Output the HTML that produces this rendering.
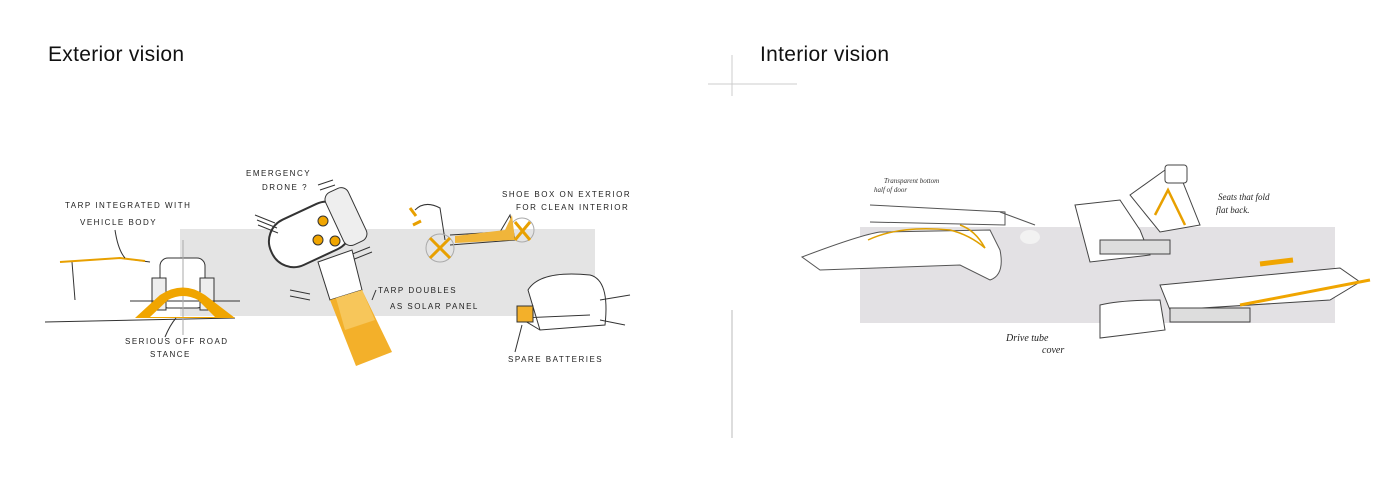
<!DOCTYPE html>
<html><head><meta charset="utf-8"><style>
body{margin:0;background:#fff;width:1400px;height:495px;overflow:hidden;position:relative;font-family:"Liberation Sans",sans-serif}
.t{position:absolute;top:43px;font-size:21px;color:#111;letter-spacing:0.3px}
svg{position:absolute;left:0;top:0}
.h{font-family:"Liberation Sans",sans-serif;font-size:8px;fill:#222;letter-spacing:1.5px}
</style></head><body>
<div class="t" style="left:48px">Exterior vision</div>
<div class="t" style="left:760px">Interior vision</div>
<svg width="1400" height="495" viewBox="0 0 1400 495">
<line x1="732" y1="55" x2="732" y2="96" stroke="#ccc"/>
<line x1="708" y1="84" x2="797" y2="84" stroke="#ccc"/>
<line x1="732" y1="310" x2="732" y2="438" stroke="#bbb"/>
<rect x="180" y="229" width="415" height="87" fill="#e4e4e4"/>
<rect x="860" y="227" width="475" height="96" fill="#e3e1e4"/>

<g stroke="#333" fill="none" stroke-width="1">
<path d="M60 262 L120 258 L150 262"/><path d="M72 262 L75 300"/>
<path d="M45 322 L235 318"/>
<rect x="160" y="258" width="45" height="50" rx="8" fill="#fff"/>
<rect x="152" y="278" width="14" height="32" fill="#eee"/><rect x="200" y="278" width="14" height="32" fill="#eee"/>
<line x1="130" y1="301" x2="240" y2="301"/>
<line x1="183" y1="240" x2="183" y2="335" stroke="#aaa"/>
</g>
<path d="M60 262 L120 258 L145 261" stroke="#e8a000" stroke-width="2" fill="none"/>
<path d="M135 318 L160 295 Q183 280 205 295 L235 318 Z M150 317 L168 300 Q183 292 198 300 L215 317 Z" fill="#f0a500" fill-rule="evenodd"/>
<text class="h" x="65" y="208">TARP INTEGRATED WITH</text>
<text class="h" x="80" y="225">VEHICLE BODY</text>
<path d="M115 230 Q118 250 125 258" stroke="#333" fill="none"/>
<text class="h" x="125" y="344">SERIOUS OFF ROAD</text>
<text class="h" x="150" y="357">STANCE</text>
<path d="M165 337 Q170 325 176 318" stroke="#333" fill="none"/>

<g transform="rotate(-25 310 240)">
<rect x="270" y="210" width="85" height="50" rx="24" fill="#fff" stroke="#333" stroke-width="2"/>
<rect x="340" y="205" width="25" height="58" rx="8" fill="#eee" stroke="#333"/>
</g>
<circle cx="323" cy="221" r="5" fill="#f0a500" stroke="#333"/>
<circle cx="318" cy="240" r="5" fill="#f0a500" stroke="#333"/>
<circle cx="335" cy="241" r="5" fill="#f0a500" stroke="#333"/>
<g stroke="#333" stroke-width="1"><path d="M255 215 l20 8 M257 220 l20 8 M258 225 l20 8 M350 255 l20 -8 M352 260 l20 -8 M318 185 l15 -5 M320 190 l15 -5 M290 290 l20 4 M290 296 l20 4"/></g>
<polygon points="318,262 352,250 362,290 330,300" fill="#fff" stroke="#333"/>
<polygon points="330,300 362,290 392,352 356,366" fill="#f3b02a"/>
<polygon points="336,298 362,290 375,320 345,330" fill="#f7c65a"/>
<text class="h" x="246" y="176">EMERGENCY</text>
<text class="h" x="262" y="190">DRONE ?</text>
<text class="h" x="378" y="293">TARP DOUBLES</text>
<text class="h" x="390" y="309">AS SOLAR PANEL</text>
<path d="M376 290 L372 300" stroke="#333"/>

<g stroke="#333" fill="none"><path d="M415 210 Q425 200 440 208 L445 240"/><path d="M450 235 L500 232 L510 215 L515 240 L450 245"/><circle cx="440" cy="248" r="14" stroke="#aaa"/><circle cx="522" cy="230" r="12" stroke="#aaa"/></g>
<path d="M455 236 L505 230 L512 215 L515 240 L455 243 Z" fill="#f0b53a"/>
<path d="M430 238 L450 258 M450 238 L430 258 M515 222 L530 240 M530 222 L515 240" stroke="#e8a000" stroke-width="3"/>
<path d="M410 208 l6 8 M413 225 l8 -4" stroke="#e8a000" stroke-width="3"/>
<text class="h" x="502" y="197">SHOE BOX ON EXTERIOR</text>
<text class="h" x="516" y="210">FOR CLEAN INTERIOR</text>

<g stroke="#333" fill="none"><path d="M528 290 Q540 270 590 275 Q610 280 605 325 L540 330 Z" fill="#fff"/><path d="M540 330 L520 318 L590 315"/><path d="M600 300 L630 295 M600 320 L625 325"/></g>
<rect x="517" y="306" width="16" height="16" fill="#f3b02a" stroke="#333"/>
<text class="h" x="508" y="362">SPARE BATTERIES</text>
<path d="M515 352 L522 325" stroke="#333"/>

<g stroke="#555" fill="none">
<path d="M802 257 Q860 235 880 232 L990 230 L1000 250 Q1005 275 990 280 L960 265 L820 270 Z" fill="#fff"/>
<path d="M870 205 L1005 212 L1005 225 L870 222"/>
<path d="M1000 212 L1035 225"/>
</g>
<path d="M868 240 Q900 225 950 230 Q970 235 985 248 Q975 230 960 225" stroke="#e0a000" stroke-width="1.5" fill="none"/>
<ellipse cx="1030" cy="237" rx="10" ry="7" fill="#f2f2f2"/>
<text x="884" y="183" font-size="7" fill="#333" font-style="italic" font-family="Liberation Serif">Transparent bottom</text>
<text x="874" y="192" font-size="7" fill="#333" font-style="italic" font-family="Liberation Serif">half of door</text>

<g stroke="#444" fill="#fff">
<path d="M1075 205 L1120 200 L1140 230 L1150 255 L1090 262 Z"/>
<path d="M1130 195 L1165 170 L1180 175 L1200 225 L1160 232 Z"/>
<rect x="1165" y="165" width="22" height="18" rx="3"/>
<rect x="1100" y="240" width="70" height="14" fill="#ddd"/>
</g>
<path d="M1155 215 L1168 190 L1185 225" stroke="#e8a000" stroke-width="2.5" fill="none"/>
<text x="1218" y="200" font-size="9" fill="#222" font-style="italic" font-family="Liberation Serif">Seats that fold</text>
<text x="1216" y="213" font-size="9" fill="#222" font-style="italic" font-family="Liberation Serif">flat back.</text>
<path d="M1260 264 L1293 260" stroke="#f0a500" stroke-width="5"/>
<g stroke="#444" fill="#fff">
<path d="M1100 305 Q1120 300 1160 300 L1165 330 L1100 338 Z"/>
<path d="M1160 285 L1340 268 L1360 282 L1330 300 L1170 310 Z"/>
<rect x="1170" y="308" width="80" height="14" fill="#ddd"/>
</g>
<path d="M1240 305 L1370 280" stroke="#f0a500" stroke-width="3"/>
<text x="1006" y="341" font-size="10" fill="#222" font-style="italic" font-family="Liberation Serif">Drive tube</text>
<text x="1042" y="353" font-size="10" fill="#222" font-style="italic" font-family="Liberation Serif">cover</text>
</svg>
</body></html>
